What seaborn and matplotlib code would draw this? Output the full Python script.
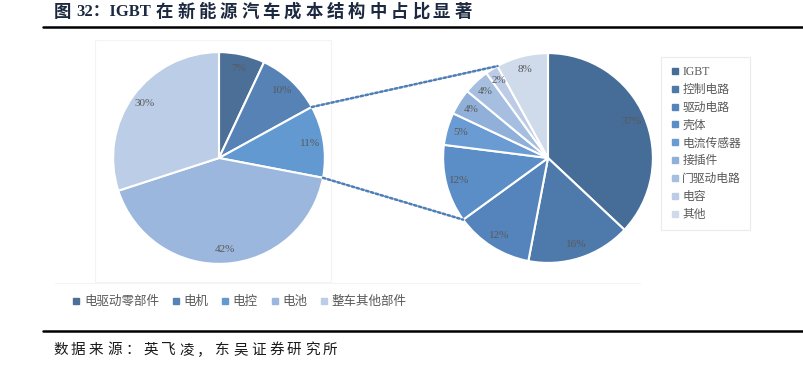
import matplotlib
matplotlib.use("Agg")
import matplotlib.pyplot as plt
import seaborn as sns
from matplotlib.lines import Line2D
from matplotlib.patches import ConnectionPatch, Rectangle
import numpy as np

sns.set_theme(style="white")
plt.rcParams['font.family'] = ['Liberation Serif', 'Noto Sans CJK SC', 'DejaVu Sans']

# ---- data ----
left_labels = ["电驱动零部件", "电机", "电控", "电池", "整车其他部件"]
left_values = [7, 10, 11, 42, 30]
left_colors = ["#4c6f98", "#5682b6", "#6299d0", "#9bb7dd", "#bccde7"]

right_labels = ["IGBT", "控制电路", "驱动电路", "壳体", "电流传感器", "接插件", "门驱动电路", "电容", "其他"]
right_values = [37, 16, 12, 12, 5, 4, 4, 2, 8]
right_colors = ["#466d97", "#4d79ab", "#5484bb", "#5b8ec7", "#6a9bd2",
                "#90b0d9", "#a6bfe0", "#bccce6", "#cfdaeb"]

title_fig = "图"
title_head = "32：IGBT"
title_body = "在新能源汽车成本结构中占比显著"
source = "数据来源：英飞凌，东吴证券研究所"

W, H = 804, 379
fig = plt.figure(figsize=(W / 100, H / 100), dpi=100)
fig.patch.set_facecolor("white")


def px_axes(cx, cy, r):
    return fig.add_axes([(cx - r) / W, (H - cy - r) / H, 2 * r / W, 2 * r / H])


def fx(x):
    return x / W


def fy(y):
    return 1 - y / H


# faint frame around the left pie (as in the source image)
fig.add_artist(Rectangle((fx(95), fy(282)), (331 - 95) / W, (282 - 40) / H,
                         transform=fig.transFigure, fill=False, edgecolor="#f3f3f3", linewidth=0.8))
fig.add_artist(Line2D([fx(55), fx(640)], [fy(283), fy(283)], color="#f4f4f4", linewidth=0.8))

label_kw = dict(color="#595959", fontsize=8, family=["Liberation Serif"])

axL = px_axes(219, 158, 108)
wL, tL = axL.pie(left_values, colors=left_colors, startangle=90, counterclock=False,
                 wedgeprops=dict(edgecolor="white", linewidth=1.5), radius=1)
for w, v in zip(wL, left_values):
    ang = np.deg2rad((w.theta1 + w.theta2) / 2)
    axL.text(0.87 * np.cos(ang), 0.87 * np.sin(ang), f"{v}%", ha="center", va="center", **label_kw)
axL.set_xlim(-1.02, 1.02); axL.set_ylim(-1.02, 1.02); axL.set_aspect("equal"); axL.axis("off")

axR = px_axes(548, 158, 107)
wR, tR = axR.pie(right_values, colors=right_colors, startangle=90, counterclock=False,
                 wedgeprops=dict(edgecolor="white", linewidth=1.5), radius=1)
for w, v in zip(wR, right_values):
    ang = np.deg2rad((w.theta1 + w.theta2) / 2)
    axR.text(0.87 * np.cos(ang), 0.87 * np.sin(ang), f"{v}%", ha="center", va="center", **label_kw)
axR.set_xlim(-1.02, 1.02); axR.set_ylim(-1.02, 1.02); axR.set_aspect("equal"); axR.axis("off")

# connection lines (from 电控 wedge edges to right pie)
wc = wL[2]
a1, a2 = np.deg2rad(wc.theta2), np.deg2rad(wc.theta1)
r_top = np.deg2rad(wR[8].theta2)
r_bot = np.deg2rad(wR[2].theta1)
for la, ra in [(a1, r_top), (a2, r_bot)]:
    con = ConnectionPatch(xyA=(np.cos(la), np.sin(la)), coordsA=axL.transData,
                          xyB=(np.cos(ra), np.sin(ra)), coordsB=axR.transData,
                          color="#4f7fb5", linestyle=(0, (1, 1)), linewidth=1.8)
    fig.add_artist(con)

# right legend
hR = [Line2D([], [], marker="s", linestyle="none", markersize=4,
             markerfacecolor=c, markeredgecolor=c) for c in right_colors]
legR = fig.legend(hR, right_labels, loc="upper left", bbox_to_anchor=(fx(661), fy(57)),
                  frameon=True, fontsize=8.5, handletextpad=0.25, handlelength=0.8,
                  labelspacing=0.5, borderpad=0.75, fancybox=False, borderaxespad=0)
legR.get_frame().set_edgecolor("#e6e6e6")
legR.get_frame().set_linewidth(0.8)
for t in legR.get_texts():
    t.set_color("#595959")

# bottom legend
hL = [Line2D([], [], marker="s", linestyle="none", markersize=4,
             markerfacecolor=c, markeredgecolor=c) for c in left_colors]
legL = fig.legend(hL, left_labels, loc="center", bbox_to_anchor=(fx(239), fy(302)),
                  ncol=5, frameon=False, fontsize=9, handletextpad=0.2, handlelength=0.8,
                  columnspacing=0.95)
for t in legL.get_texts():
    t.set_color("#595959")

# title (characters placed with the wide spacing of the original)
tcol = "#1c2940"
fig.text(fx(54), fy(12), title_fig, fontsize=12.5, fontweight="bold", color=tcol,
         va="center", ha="left", family=["Noto Sans CJK SC"])
fig.text(fx(76), fy(12), title_head, fontsize=12, fontweight="bold", color=tcol,
         va="center", ha="left", family=["Liberation Serif", "Noto Sans CJK SC"])
for i, ch in enumerate(title_body):
    fig.text(fx(156 + i * 21.3), fy(12), ch, fontsize=12.5, fontweight="bold", color=tcol,
             va="center", ha="left", family=["Noto Sans CJK SC"])

fig.add_artist(Line2D([fx(43), 1], [fy(27), fy(27)], color="black", linewidth=1.8))
fig.add_artist(Line2D([fx(43), 1], [fy(331), fy(331)], color="black", linewidth=1.8))

skw = dict(fontsize=10.5, color="#1a1a1a", va="center", ha="left", family=["Noto Sans CJK SC"])
for i, ch in enumerate(source):
    fig.text(fx(53 + i * 18.0), fy(350), ch, **skw)

fig.savefig("out.png", dpi=100, facecolor="white")
